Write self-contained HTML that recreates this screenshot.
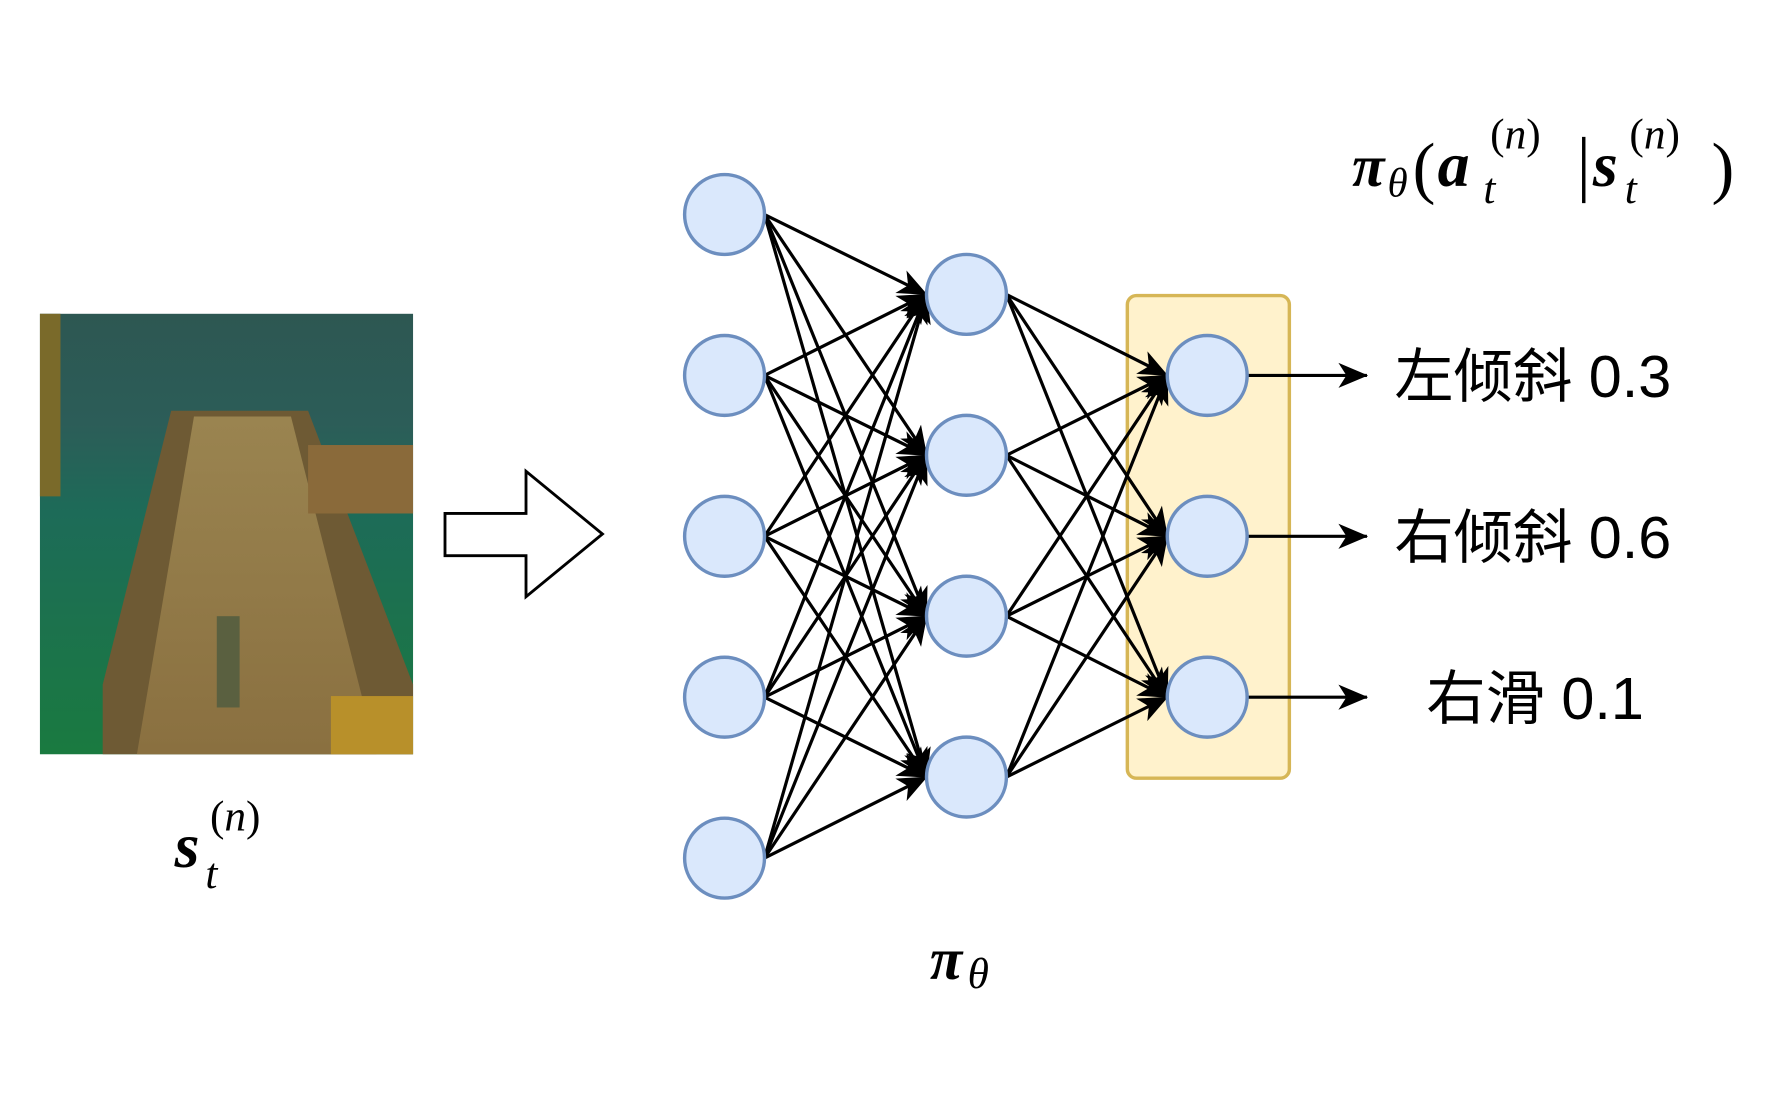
<!DOCTYPE html>
<html><head><meta charset="utf-8"><style>
html,body{margin:0;padding:0;background:#fff;width:1780px;height:1100px;overflow:hidden}
svg{display:block}
.m{font-family:"Liberation Serif",serif;font-style:italic}
.c{font-family:"Liberation Sans","Noto Sans CJK SC",sans-serif}
</style></head><body>
<svg width="1780" height="1100" viewBox="0 0 1560 964" preserveAspectRatio="none" xmlns="http://www.w3.org/2000/svg">
<defs>
<marker id="b" markerWidth="26" markerHeight="26" refX="25" refY="13" orient="auto" markerUnits="userSpaceOnUse" viewBox="0 0 26 26">
<path d="M0,2 L26,13 L0,24 L7,13 Z" fill="#000"/></marker>
<linearGradient id="sky" x1="0" y1="0" x2="0" y2="1">
<stop offset="0" stop-color="#2d5752"/><stop offset="0.25" stop-color="#2c5d58"/><stop offset="0.45" stop-color="#1d6b58"/><stop offset="1" stop-color="#1a7a40"/></linearGradient>
<linearGradient id="road" x1="0" y1="0" x2="0" y2="1">
<stop offset="0" stop-color="#9a8450"/><stop offset="1" stop-color="#8a7040"/></linearGradient>
</defs>
<rect x="35" y="275" width="327" height="386" fill="url(#sky)"/>
<polygon points="150,360 270,360 362,600 362,661 90,661 90,600" fill="#6e5a34"/>
<polygon points="170,365 255,365 330,661 120,661" fill="url(#road)"/>
<rect x="270" y="390" width="92" height="60" fill="#8a6a3a"/>
<rect x="290" y="610" width="72" height="51" fill="#b8902a"/>
<rect x="35" y="275" width="18" height="160" fill="#7a6a2a"/>
<rect x="190" y="540" width="20" height="80" fill="#5a6040"/>
<polygon points="390,450 461,450 461,413 528,468 461,523 461,487 390,487" fill="#fff" stroke="#000" stroke-width="2.5"/>
<rect x="988" y="259" width="142" height="423" rx="8" fill="#fff2cc" stroke="#d6b656" stroke-width="3"/>
<g stroke="#000" stroke-width="2.8" fill="none">
<g marker-end="url(#b)">
<line x1="670" y1="188" x2="812" y2="258"/><line x1="670" y1="188" x2="812" y2="399"/><line x1="670" y1="188" x2="812" y2="540"/><line x1="670" y1="188" x2="812" y2="681"/>
<line x1="670" y1="329" x2="812" y2="258"/><line x1="670" y1="329" x2="812" y2="399"/><line x1="670" y1="329" x2="812" y2="540"/><line x1="670" y1="329" x2="812" y2="681"/>
<line x1="670" y1="470" x2="812" y2="258"/><line x1="670" y1="470" x2="812" y2="399"/><line x1="670" y1="470" x2="812" y2="540"/><line x1="670" y1="470" x2="812" y2="681"/>
<line x1="670" y1="611" x2="812" y2="258"/><line x1="670" y1="611" x2="812" y2="399"/><line x1="670" y1="611" x2="812" y2="540"/><line x1="670" y1="611" x2="812" y2="681"/>
<line x1="670" y1="752" x2="812" y2="258"/><line x1="670" y1="752" x2="812" y2="399"/><line x1="670" y1="752" x2="812" y2="540"/><line x1="670" y1="752" x2="812" y2="681"/>
<line x1="882" y1="258" x2="1023" y2="329"/><line x1="882" y1="258" x2="1023" y2="470"/><line x1="882" y1="258" x2="1023" y2="611"/>
<line x1="882" y1="399" x2="1023" y2="329"/><line x1="882" y1="399" x2="1023" y2="470"/><line x1="882" y1="399" x2="1023" y2="611"/>
<line x1="882" y1="540" x2="1023" y2="329"/><line x1="882" y1="540" x2="1023" y2="470"/><line x1="882" y1="540" x2="1023" y2="611"/>
<line x1="882" y1="681" x2="1023" y2="329"/><line x1="882" y1="681" x2="1023" y2="470"/><line x1="882" y1="681" x2="1023" y2="611"/>
<line x1="1094" y1="329" x2="1198" y2="329"/><line x1="1094" y1="470" x2="1198" y2="470"/><line x1="1094" y1="611" x2="1198" y2="611"/>
</g>
</g>
<g fill="#dae8fc" stroke="#6c8ebf" stroke-width="3">
<circle cx="635" cy="188" r="35"/><circle cx="635" cy="329" r="35"/><circle cx="635" cy="470" r="35"/><circle cx="635" cy="611" r="35"/><circle cx="635" cy="752" r="35"/>
<circle cx="847" cy="258" r="35"/><circle cx="847" cy="399" r="35"/><circle cx="847" cy="540" r="35"/><circle cx="847" cy="681" r="35"/>
<circle cx="1058" cy="329" r="35"/><circle cx="1058" cy="470" r="35"/><circle cx="1058" cy="611" r="35"/>
</g>
<g class="c" font-size="52" fill="#000">
<text x="1222" y="348">左倾斜 0.3</text>
<text x="1222" y="489">右倾斜 0.6</text>
<text x="1250" y="630">右滑 0.1</text>
</g>
<g class="m" fill="#000">
<text x="1185" y="163" font-size="52" font-weight="bold">π</text>
<text x="1216" y="172" font-size="36">θ</text>
<text x="1238" y="167" font-size="60" font-style="normal">(</text>
<text x="1260" y="163" font-size="56" font-weight="bold">a</text>
<text x="1300" y="178" font-size="38">t</text>
<text x="1306" y="130" font-size="38"><tspan font-style="normal">(</tspan>n<tspan font-style="normal">)</tspan></text>
<line x1="1388" y1="120" x2="1388" y2="178" stroke="#000" stroke-width="3"/>
<text x="1396" y="163" font-size="56" font-weight="bold">s</text>
<text x="1424" y="178" font-size="38">t</text>
<text x="1428" y="130" font-size="38"><tspan font-style="normal">(</tspan>n<tspan font-style="normal">)</tspan></text>
<text x="1500" y="167" font-size="60" font-style="normal">)</text>
<text x="153" y="760" font-size="56" font-weight="bold">s</text>
<text x="180" y="778" font-size="38">t</text>
<text x="184" y="728" font-size="38"><tspan font-style="normal">(</tspan>n<tspan font-style="normal">)</tspan></text>
<text x="815" y="858" font-size="52" font-weight="bold">π</text>
<text x="848" y="866" font-size="38">θ</text>
</g>
</svg>
</body></html>
